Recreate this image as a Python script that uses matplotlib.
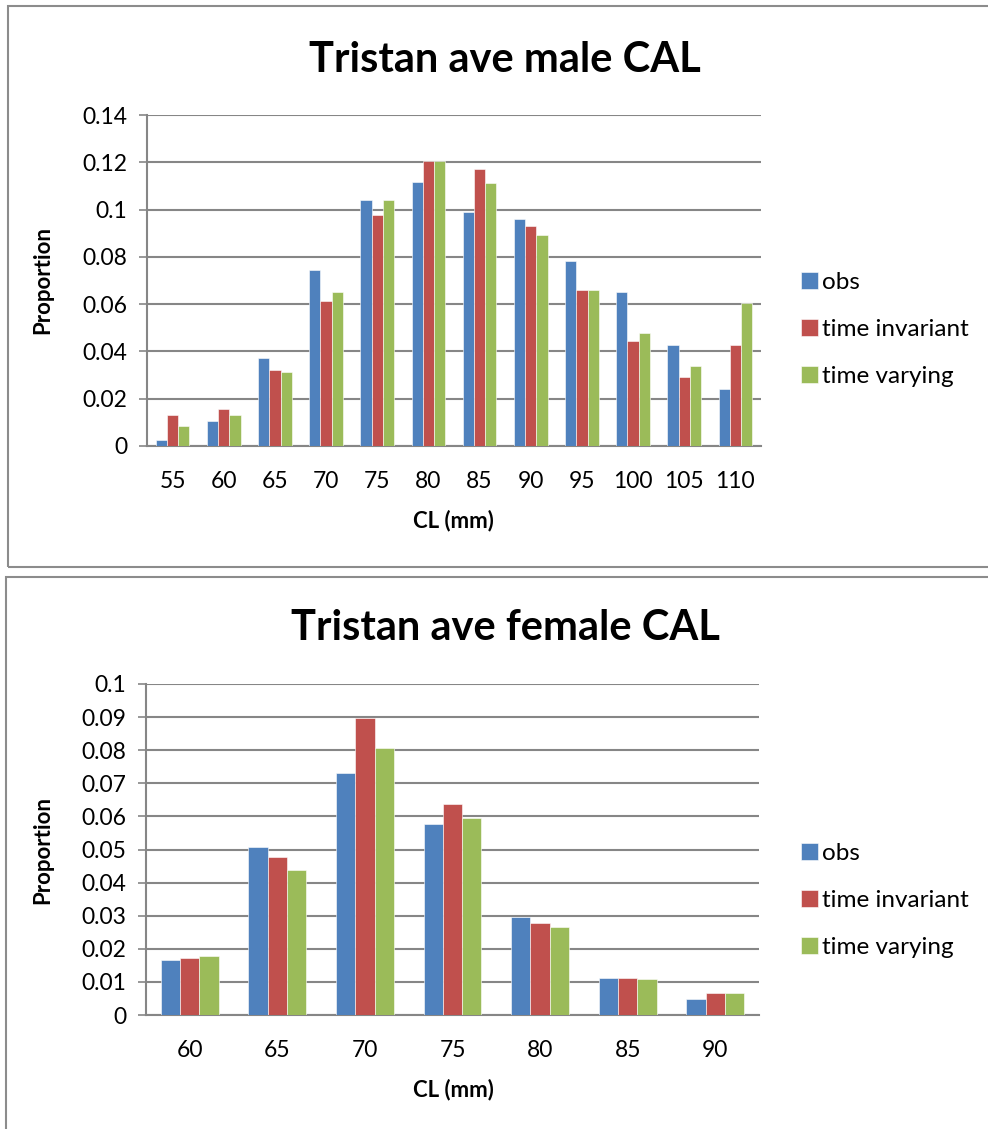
import numpy as np
import matplotlib
matplotlib.use('Agg')
import matplotlib.pyplot as plt
from matplotlib.patches import Rectangle

plt.rcParams['font.family'] = ['Lato', 'DejaVu Sans']

# data
series_names = ['obs', 'time invariant', 'time varying']
colors = ['#4F81BD', '#C0504D', '#9BBB59']

male_cl = [55, 60, 65, 70, 75, 80, 85, 90, 95, 100, 105, 110]
male_obs = [0.0024, 0.0107, 0.0372, 0.0743, 0.1041, 0.1115, 0.0990, 0.0959, 0.0784, 0.0653, 0.0429, 0.0239]
male_inv = [0.0133, 0.0155, 0.0322, 0.0612, 0.0975, 0.1204, 0.1173, 0.0932, 0.0661, 0.0445, 0.0290, 0.0429]
male_var = [0.0083, 0.0133, 0.0314, 0.0653, 0.1041, 0.1204, 0.1113, 0.0891, 0.0661, 0.0479, 0.0338, 0.0603]

female_cl = [60, 65, 70, 75, 80, 85, 90]
female_obs = [0.0166, 0.0508, 0.0730, 0.0578, 0.0296, 0.0113, 0.0048]
female_inv = [0.0172, 0.0478, 0.0896, 0.0636, 0.0278, 0.0113, 0.0067]
female_var = [0.0178, 0.0437, 0.0808, 0.0596, 0.0267, 0.0108, 0.0067]

W, H = 988, 1129
fig = plt.figure(figsize=(W/100, H/100), dpi=100)

def px_axes(left, top, right, bottom):
    return fig.add_axes([left/W, 1 - bottom/H, (right-left)/W, (bottom-top)/H])

def chart_box(left, top, right, bottom):
    r = Rectangle((left/W, 1 - bottom/H), (right-left)/W, (bottom-top)/H,
                  transform=fig.transFigure, fill=False, edgecolor='#8c8c8c', lw=1.5)
    fig.add_artist(r)

GRID = '#868686'

def ax_center_y(ax):
    b = ax.get_position()
    return (1 - (b.y0 + b.height/2)) * H

def draw_chart(ax, cats, vals, ymax, ystep, title, title_y, xlab_y, ylab_x, leg_y):
    x = np.arange(len(cats))
    w = 0.22
    for k, v in enumerate(vals):
        ax.bar(x + (k-1)*w, v, w, color=colors[k], edgecolor='white', linewidth=0.4,
               label=series_names[k], zorder=3)
    ax.set_xlim(-0.5, len(cats)-0.5)
    ax.set_ylim(0, ymax)
    ticks = np.arange(0, ymax + ystep/2, ystep)
    ax.set_yticks(ticks)
    ax.set_yticklabels(['0' if t == 0 else ('%.2f' % t).rstrip('0') for t in ticks], fontsize=16.5)
    ax.set_xticks(x)
    ax.set_xticklabels([str(c) for c in cats], fontsize=16.5)
    ax.tick_params(axis='x', length=0, pad=18)
    ax.tick_params(axis='y', length=6, width=1.2, color=GRID, pad=8)
    ax.yaxis.grid(True, color=GRID, lw=1.5, zorder=0)
    ax.set_axisbelow(True)
    for s in ['top', 'right']:
        ax.spines[s].set_visible(False)
    for s in ['left', 'bottom']:
        ax.spines[s].set_color(GRID)
        ax.spines[s].set_linewidth(1.5)
    fig.text(505/W, 1 - title_y/H, title, fontsize=30, fontweight='bold', ha='center', va='center')
    fig.text(453/W, 1 - xlab_y/H, 'CL (mm)', fontsize=16, fontweight='bold', ha='center', va='center')
    fig.text(ylab_x/W, 1 - ax_center_y(ax)/H, 'Proportion', fontsize=16, fontweight='bold',
             rotation=90, ha='center', va='center')
    ax.legend(loc='upper left', bbox_to_anchor=(801/W, 1 - leg_y/H),
              bbox_transform=fig.transFigure, frameon=False, fontsize=17.5,
              handlelength=0.68, handleheight=0.68, handletextpad=0.2, labelspacing=1.07,
              borderpad=0, borderaxespad=0)

chart_box(8, 6, 1000, 567)
chart_box(6, 577, 1000, 1140)

ax1 = px_axes(147, 115, 761, 446)
draw_chart(ax1, male_cl, [male_obs, male_inv, male_var], 0.14, 0.02,
           'Tristan ave male CAL', 60, 521, 43, 272)

ax2 = px_axes(146, 684, 759, 1015)
draw_chart(ax2, female_cl, [female_obs, female_inv, female_var], 0.1, 0.01,
           'Tristan ave female CAL', 628, 1090, 43, 843)

fig.savefig('out.png', dpi=100)
